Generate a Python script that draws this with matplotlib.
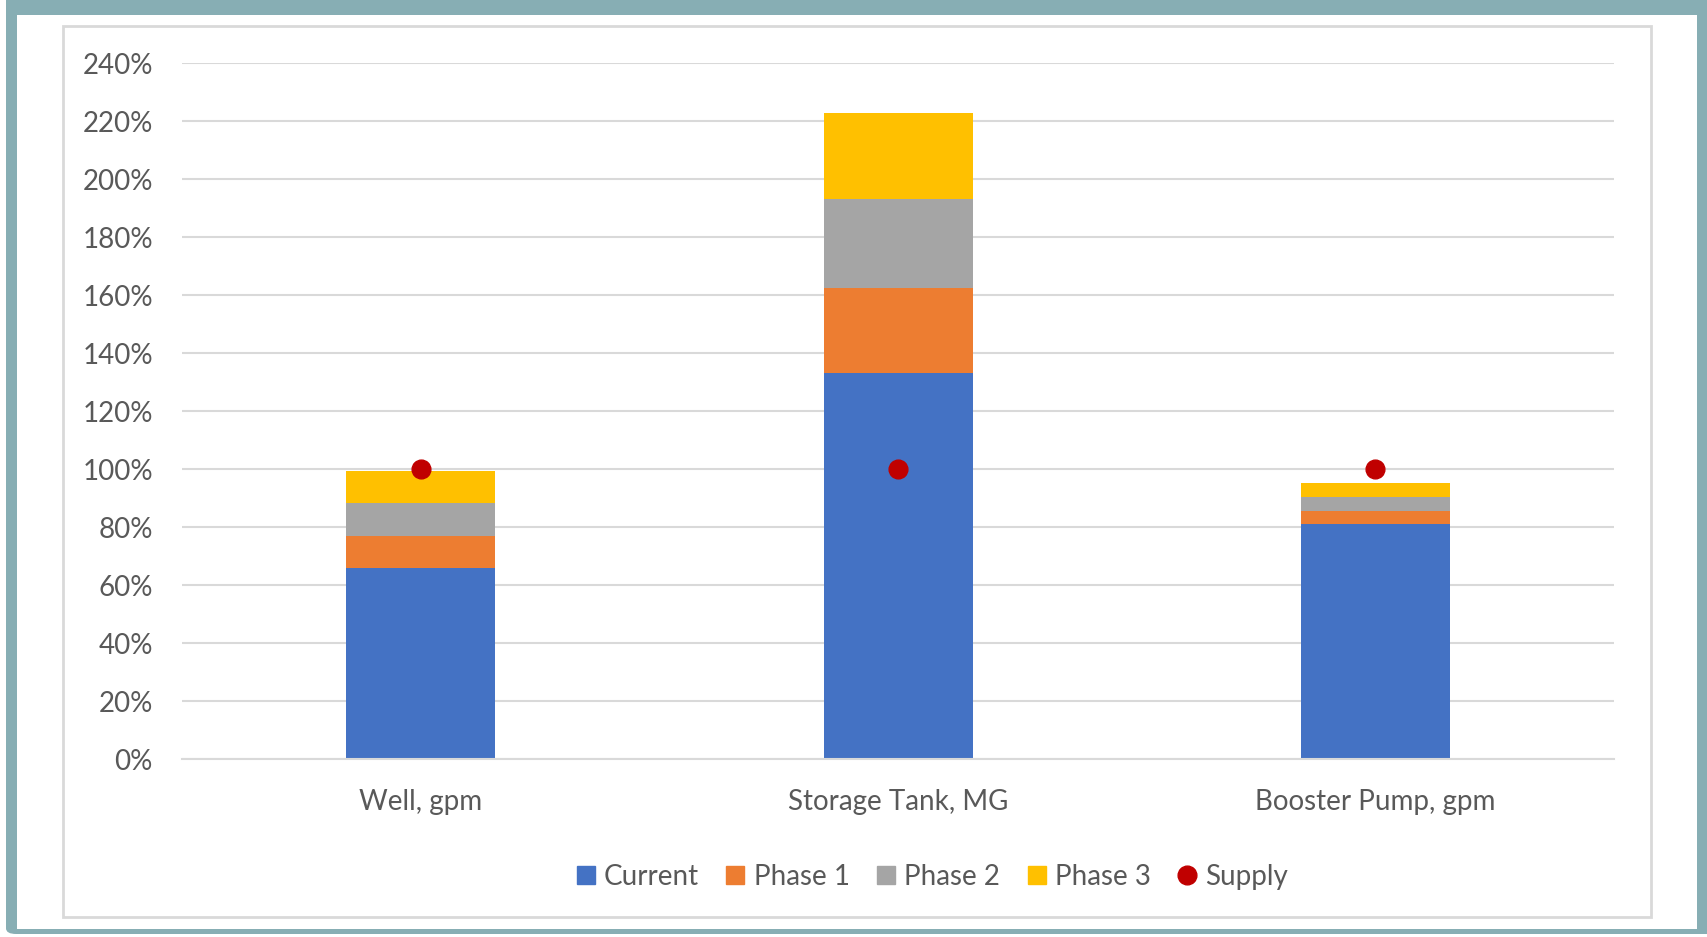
import numpy as np
import matplotlib.pyplot as plt
from matplotlib.patches import Rectangle, FancyBboxPatch
from matplotlib.lines import Line2D
from matplotlib.ticker import PercentFormatter

plt.rcParams['font.family'] = ['Lato', 'DejaVu Sans']

# data (fractions of requirement)
categories = ["Well, gpm", "Storage Tank, MG", "Booster Pump, gpm"]
series_names = ["Current", "Phase 1", "Phase 2", "Phase 3"]
current = [0.661, 1.331, 0.811]
phase1 = [0.110, 0.295, 0.046]
phase2 = [0.114, 0.305, 0.049]
phase3 = [0.110, 0.297, 0.046]
supply = [1.00, 1.00, 1.00]

colors = ["#4472C4", "#ED7D31", "#A5A5A5", "#FFC000"]
supply_color = "#C00000"
text_color = "#595959"
grid_color = "#D9D9D9"
frame_color = "#87AEB4"

W, H = 1707, 937
fig = plt.figure(figsize=(W / 100 + 0.001, H / 100 + 0.001), dpi=100)
fig.patch.set_facecolor("white")

# outer teal frame + white inside
fig.patches.append(FancyBboxPatch((6 / W, 3 / H), 1.2, 1.2, boxstyle="round,pad=0,rounding_size=0.006",
                                  transform=fig.transFigure, facecolor=frame_color, edgecolor="none", zorder=-3))
fig.patches.append(Rectangle((17 / W, 1 - 929 / H), (1697 - 17) / W, (929 - 15) / H,
                             transform=fig.transFigure, facecolor="white", edgecolor="none", zorder=-2))
# chart area box
fig.patches.append(Rectangle((63 / W, 1 - 917 / H), (1651 - 63) / W, (917 - 26) / H,
                             transform=fig.transFigure, facecolor="white", edgecolor=grid_color,
                             linewidth=2, zorder=-1))

ax = fig.add_axes([182 / W, 1 - 759.3 / H, (1614 - 182) / W, (759.3 - 63.3) / H])
ax.set_facecolor("none")

x = np.arange(len(categories))
width = 0.312
bottom = np.zeros(len(categories))
for vals, name, c in zip([current, phase1, phase2, phase3], series_names, colors):
    ax.bar(x, vals, width, bottom=bottom, color=c, label=name, zorder=2)
    bottom += np.array(vals)
ax.plot(x, supply, linestyle="none", marker="o", markersize=13.5, color=supply_color, zorder=3)

ax.set_xlim(-0.5, 2.5)
ax.set_ylim(0, 2.4)
ax.set_yticks(np.arange(0, 2.41, 0.2))
ax.yaxis.set_major_formatter(PercentFormatter(1.0, decimals=0))
ax.set_xticks(x)
ax.set_xticklabels(categories)
ax.grid(axis="y", color=grid_color, linewidth=1.5, zorder=0)
ax.set_axisbelow(True)
for s in ["top", "right", "left"]:
    ax.spines[s].set_visible(False)
ax.spines["bottom"].set_color(grid_color)
ax.spines["bottom"].set_linewidth(1.5)
ax.tick_params(axis="y", length=0, pad=21, labelsize=20, labelcolor=text_color)
ax.tick_params(axis="x", length=0, pad=21, labelsize=20, labelcolor=text_color)

handles = [Line2D([], [], linestyle="none", marker="s", markersize=12.5, color=c) for c in colors]
handles.append(Line2D([], [], linestyle="none", marker="o", markersize=13.5, color=supply_color))
leg = fig.legend(handles, series_names + ["Supply"], loc="center", ncol=5, frameon=False,
                 bbox_to_anchor=(932 / W, 1 - 877 / H), fontsize=20, handlelength=0.7,
                 handletextpad=0.3, columnspacing=0.97)
for t in leg.get_texts():
    t.set_color(text_color)

fig.savefig("out.png", dpi=100)
